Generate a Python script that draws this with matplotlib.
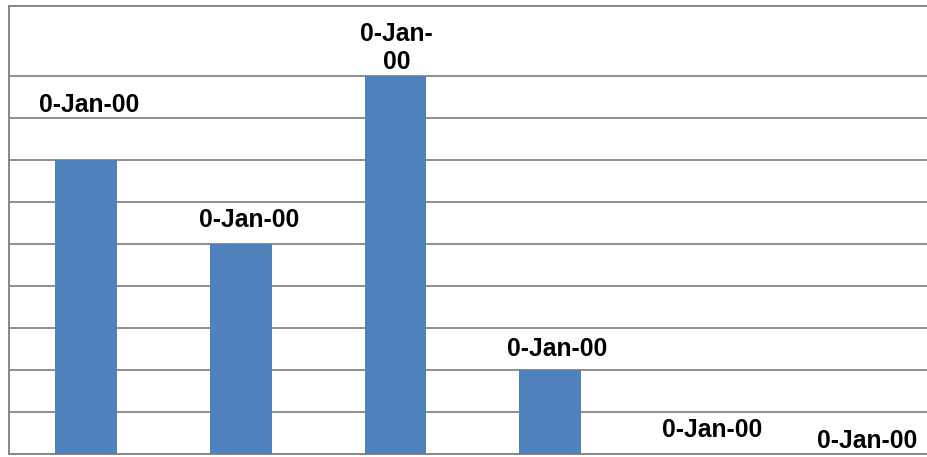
import matplotlib
matplotlib.use("Agg")
import matplotlib.pyplot as plt

# ---------- data ----------
categories = ["A", "B", "C", "D", "E", "F"]
values = [7, 5, 9, 2, 0, 0]
labels = ["0-Jan-00", "0-Jan-00", "0-Jan-\n00", "0-Jan-00", "0-Jan-00", "0-Jan-00"]

# label offsets from bar top (pixels), as the labels were moved by hand
label_dx = [3, 8, 1, 7, 7, 8]
label_dy = [48, 17, 7, 14, 17, 6]

BAR_COLOR = "#4F81BD"
GRID_COLOR = "#868686"

plt.rcParams["font.family"] = ["Liberation Sans", "DejaVu Sans"]

fig = plt.figure(figsize=(9.27, 4.57), dpi=100)
W, H = 927, 457
left, bottom, top = 9, 3, 451
slot = 154.6
ax = fig.add_axes([left / W, bottom / H, 6 * slot / W, (top - bottom) / H])

x = list(range(len(categories)))
ax.bar(x, values, width=0.40, color=BAR_COLOR, zorder=3)

ax.set_xlim(-0.5, 5.5)
ax.set_ylim(0, (top - bottom) / 42.0)
ax.set_yticks(range(0, 10))
ax.yaxis.grid(True, color=GRID_COLOR, linewidth=1.3, zorder=0)
ax.tick_params(left=False, bottom=False, labelleft=False, labelbottom=False)

for side in ["left", "top", "bottom"]:
    ax.spines[side].set_color(GRID_COLOR)
    ax.spines[side].set_linewidth(1.4)
ax.spines["right"].set_visible(False)

for i, (v, lab) in enumerate(zip(values, labels)):
    ax.annotate(lab, xy=(i, v), xytext=(label_dx[i], label_dy[i]),
                textcoords="offset pixels", ha="center", va="baseline",
                fontsize=17.8, fontweight="bold", color="black",
                linespacing=1.2, multialignment="center", zorder=4)

fig.savefig("out.png", dpi=100)
